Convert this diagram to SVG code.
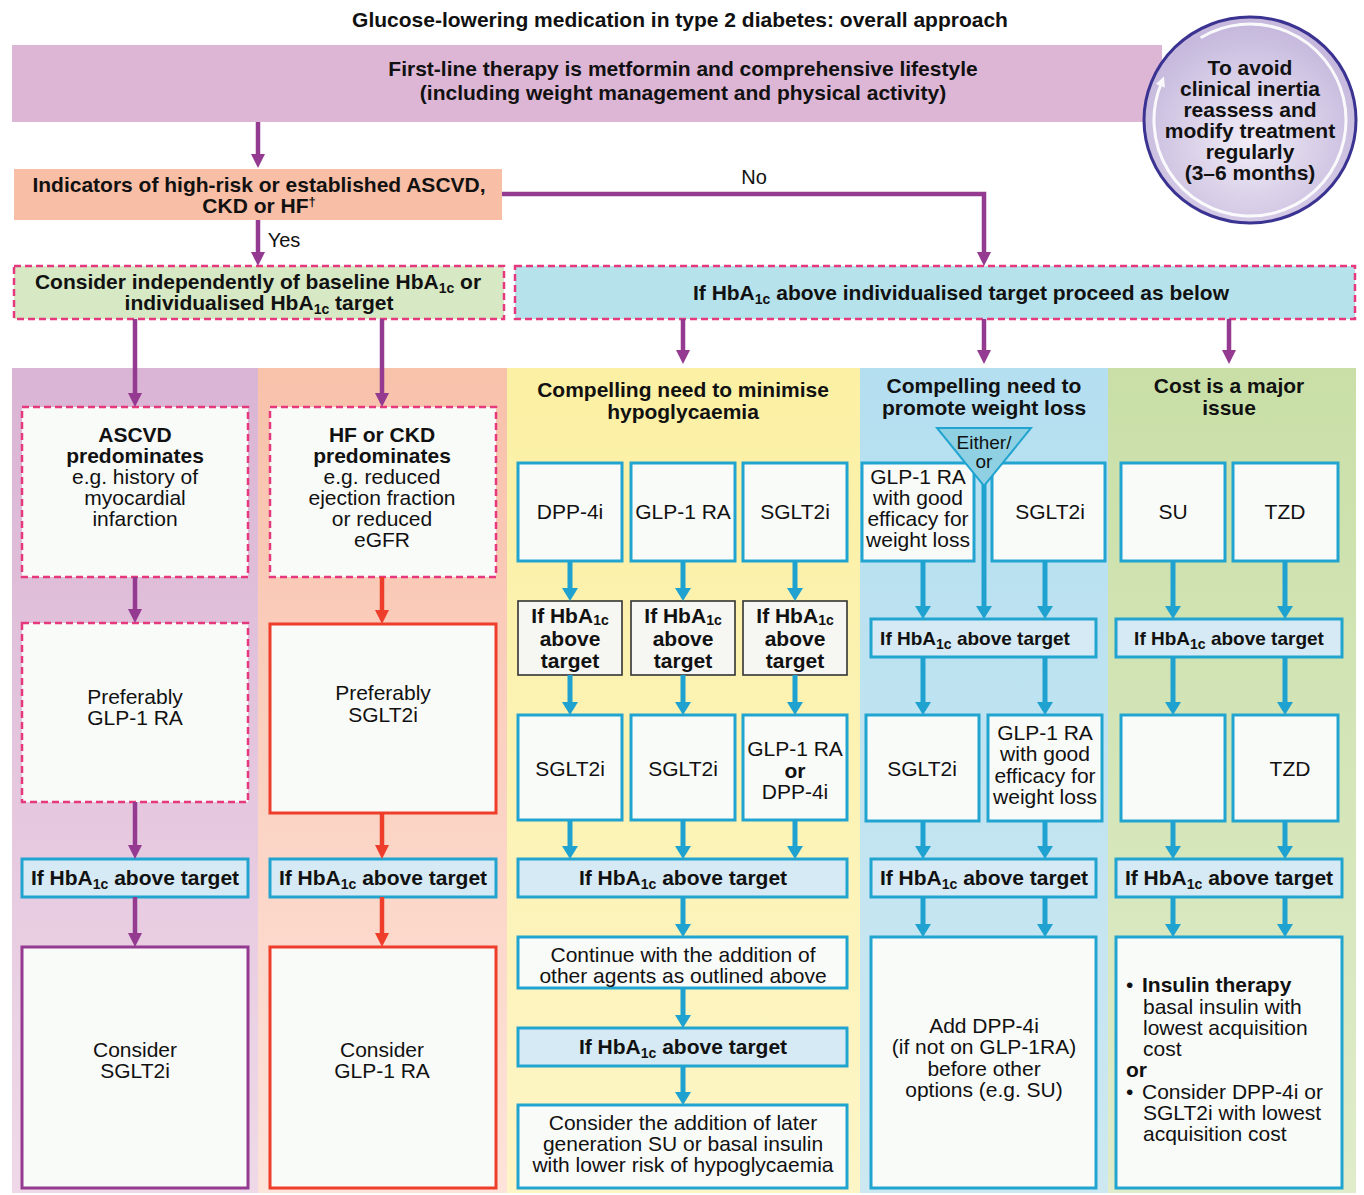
<svg xmlns="http://www.w3.org/2000/svg" width="1364" height="1195" viewBox="0 0 1364 1195">
<defs>
<style>
text{font-family:"Liberation Sans",Arial,Helvetica,sans-serif;font-size:21px;fill:#111111;text-anchor:middle}
.b{font-weight:bold}
.s{font-size:14px}
.sm{font-size:19px}
.st{text-anchor:start}
.cir{font-size:21px;font-weight:bold}
.dash{stroke:#e6397d;stroke-width:2.5;stroke-dasharray:7 4}
.wb{fill:#f9fbf9}
.cy{stroke:#22a4d0;stroke-width:3}
.hb{fill:#d5eaf4;stroke:#22a4d0;stroke-width:3}
.gb{fill:#f6f6f2;stroke:#333;stroke-width:1.6}
.lp{stroke:#943a90;stroke-width:4.5;fill:none;marker-end:url(#mp)}
.lr{stroke:#ee3d2b;stroke-width:4.5;fill:none;marker-end:url(#mr)}
.lc{stroke:#1fa2d0;stroke-width:5;fill:none;marker-end:url(#mc)}
</style>
<marker id="mp" viewBox="0 0 14 14" refX="3" refY="7" markerWidth="14" markerHeight="14" markerUnits="userSpaceOnUse" orient="auto"><path d="M0,0L14,7L0,14z" fill="#943a90"/></marker>
<marker id="mr" viewBox="0 0 14 14" refX="3" refY="7" markerWidth="14" markerHeight="14" markerUnits="userSpaceOnUse" orient="auto"><path d="M0,0L14,7L0,14z" fill="#ee3d2b"/></marker>
<marker id="mc" viewBox="0 0 13 16" refX="3" refY="8" markerWidth="13" markerHeight="16" markerUnits="userSpaceOnUse" orient="auto"><path d="M0,0L13,8L0,16z" fill="#1fa2d0"/></marker>
<marker id="mw" viewBox="0 0 10 10" refX="2" refY="5" markerWidth="10" markerHeight="10" markerUnits="userSpaceOnUse" orient="auto"><path d="M0,0L10,5L0,10z" fill="#ffffff"/></marker>
<linearGradient id="g1" x1="0" y1="0" x2="0" y2="1"><stop offset="0" stop-color="#dab4d4"/><stop offset="1" stop-color="#efd9e8"/></linearGradient>
<linearGradient id="g2" x1="0" y1="0" x2="0" y2="1"><stop offset="0" stop-color="#f8c1aa"/><stop offset="1" stop-color="#fde3da"/></linearGradient>
<linearGradient id="g3" x1="0" y1="0" x2="0" y2="1"><stop offset="0" stop-color="#fbf0a3"/><stop offset="1" stop-color="#fdf5c6"/></linearGradient>
<linearGradient id="g4" x1="0" y1="0" x2="0" y2="1"><stop offset="0" stop-color="#b4dff0"/><stop offset="1" stop-color="#cde8f1"/></linearGradient>
<linearGradient id="g5" x1="0" y1="0" x2="0" y2="1"><stop offset="0" stop-color="#c9dfa7"/><stop offset="1" stop-color="#e0ecca"/></linearGradient>
<radialGradient id="gc" cx="0.5" cy="0.6" r="0.55"><stop offset="0" stop-color="#f1ecf6"/><stop offset="1" stop-color="#c6b9dd"/></radialGradient>
</defs>
<rect width="1364" height="1195" fill="#ffffff"/>

<g id="title"><text class="b" x="680" y="27">Glucose-lowering medication in type 2 diabetes: overall approach</text></g>

<g id="columns">
<rect x="12" y="368" width="246" height="825" fill="url(#g1)"/>
<rect x="258" y="368" width="249" height="825" fill="url(#g2)"/>
<rect x="507" y="368" width="353" height="825" fill="url(#g3)"/>
<rect x="860" y="368" width="248" height="825" fill="url(#g4)"/>
<rect x="1108" y="368" width="248" height="825" fill="url(#g5)"/>
</g>

<g id="first-line">
<rect x="12" y="45" width="1150" height="77" fill="#ddb6d6"/>
<text class="b" x="683" y="76">First-line therapy is metformin and comprehensive lifestyle</text>
<text class="b" x="683" y="100">(including weight management and physical activity)</text>
</g>

<g id="reassess">
<ellipse cx="1250" cy="120" rx="106" ry="103" fill="url(#gc)" stroke="#3b3391" stroke-width="3"/>
<path d="M1200.6,37.7A96,96 0 1 1 1161,84" fill="none" stroke="#ffffff" stroke-width="3" opacity="0.9" marker-end="url(#mw)"/>
<text class="cir" x="1250" y="75">To avoid</text>
<text class="cir" x="1250" y="96">clinical inertia</text>
<text class="cir" x="1250" y="117">reassess and</text>
<text class="cir" x="1250" y="138">modify treatment</text>
<text class="cir" x="1250" y="159">regularly</text>
<text class="cir" x="1250" y="180">(3–6 months)</text>
</g>

<g id="indicators">
<rect x="14" y="169" width="488" height="51" fill="#f9bea6"/>
<text class="b" x="259" y="192">Indicators of high-risk or established ASCVD,</text>
<text class="b" x="259" y="213">CKD or HF<tspan dy="-7" font-size="13">†</tspan></text>
</g>

<g id="consider-independently">
<rect x="14" y="266" width="490" height="53" fill="#d6e8c4" class="dash"/>
<text class="b" x="258" y="289">Consider independently of baseline HbA<tspan class="s" dy="4">1c</tspan><tspan dy="-4"> or</tspan></text>
<text class="b" x="259" y="310">individualised HbA<tspan class="s" dy="4">1c</tspan><tspan dy="-4"> target</tspan></text>
</g>

<g id="proceed">
<rect x="515" y="266" width="840" height="53" fill="#b5e2eb" class="dash"/>
<text class="b" x="961" y="300">If HbA<tspan class="s" dy="4">1c</tspan><tspan dy="-4"> above individualised target proceed as below</tspan></text>
</g>

<g id="col1">
<g id="ascvd"><rect x="22" y="407" width="226" height="170" class="wb dash"/>
<text class="b" x="135" y="442">ASCVD</text><text class="b" x="135" y="463">predominates</text>
<text x="135" y="484">e.g. history of</text><text x="135" y="505">myocardial</text><text x="135" y="526">infarction</text></g>
<g id="pref-glp"><rect x="22" y="623" width="226" height="179" class="wb dash"/>
<text x="135" y="704">Preferably</text><text x="135" y="725">GLP-1 RA</text></g>
<g id="c1-hba"><rect x="22" y="859" width="226" height="38" class="hb"/>
<text class="b" x="135" y="885">If HbA<tspan class="s" dy="4">1c</tspan><tspan dy="-4"> above target</tspan></text></g>
<g id="c1-consider"><rect x="22" y="947" width="226" height="241" class="wb" stroke="#943a90" stroke-width="3"/>
<text x="135" y="1057">Consider</text><text x="135" y="1078">SGLT2i</text></g>
</g>

<g id="col2">
<g id="hfckd"><rect x="270" y="407" width="226" height="170" class="wb dash"/>
<text class="b" x="382" y="442">HF or CKD</text><text class="b" x="382" y="463">predominates</text>
<text x="382" y="484">e.g. reduced</text><text x="382" y="505">ejection fraction</text><text x="382" y="526">or reduced</text><text x="382" y="547">eGFR</text></g>
<g id="pref-sglt"><rect x="270" y="624" width="226" height="189" class="wb" stroke="#ee3d2b" stroke-width="3"/>
<text x="383" y="700">Preferably</text><text x="383" y="722">SGLT2i</text></g>
<g id="c2-hba"><rect x="270" y="859" width="226" height="38" class="hb"/>
<text class="b" x="383" y="885">If HbA<tspan class="s" dy="4">1c</tspan><tspan dy="-4"> above target</tspan></text></g>
<g id="c2-consider"><rect x="270" y="947" width="226" height="241" class="wb" stroke="#ee3d2b" stroke-width="3"/>
<text x="382" y="1057">Consider</text><text x="382" y="1078">GLP-1 RA</text></g>
</g>

<g id="col3">
<g id="c3-head"><text class="b" x="683" y="397">Compelling need to minimise</text><text class="b" x="683" y="419">hypoglycaemia</text></g>
<g id="c3-dpp"><rect x="518" y="463" width="104" height="98" class="wb cy"/><text x="570" y="519">DPP-4i</text></g>
<g id="c3-glp"><rect x="631" y="463" width="104" height="98" class="wb cy"/><text x="683" y="519">GLP-1 RA</text></g>
<g id="c3-sglt"><rect x="743" y="463" width="104" height="98" class="wb cy"/><text x="795" y="519">SGLT2i</text></g>
<g id="c3-h1"><rect x="518" y="601" width="104" height="74" class="gb"/><text class="b" x="570" y="623">If HbA<tspan class="s" dy="2">1c</tspan></text><text class="b" x="570" y="646">above</text><text class="b" x="570" y="668">target</text></g>
<g id="c3-h2"><rect x="631" y="601" width="104" height="74" class="gb"/><text class="b" x="683" y="623">If HbA<tspan class="s" dy="2">1c</tspan></text><text class="b" x="683" y="646">above</text><text class="b" x="683" y="668">target</text></g>
<g id="c3-h3"><rect x="743" y="601" width="104" height="74" class="gb"/><text class="b" x="795" y="623">If HbA<tspan class="s" dy="2">1c</tspan></text><text class="b" x="795" y="646">above</text><text class="b" x="795" y="668">target</text></g>
<g id="c3-s1"><rect x="518" y="715" width="104" height="105" class="wb cy"/><text x="570" y="776">SGLT2i</text></g>
<g id="c3-s2"><rect x="631" y="715" width="104" height="105" class="wb cy"/><text x="683" y="776">SGLT2i</text></g>
<g id="c3-s3"><rect x="743" y="715" width="104" height="105" class="wb cy"/><text x="795" y="756">GLP-1 RA</text><text class="b" x="795" y="778">or</text><text x="795" y="799">DPP-4i</text></g>
<g id="c3-hba"><rect x="518" y="859" width="329" height="38" class="hb"/><text class="b" x="683" y="885">If HbA<tspan class="s" dy="4">1c</tspan><tspan dy="-4"> above target</tspan></text></g>
<g id="c3-continue"><rect x="518" y="937" width="329" height="51" class="wb cy"/><text x="683" y="962">Continue with the addition of</text><text x="683" y="983">other agents as outlined above</text></g>
<g id="c3-hba2"><rect x="518" y="1028" width="329" height="38" class="hb"/><text class="b" x="683" y="1054">If HbA<tspan class="s" dy="4">1c</tspan><tspan dy="-4"> above target</tspan></text></g>
<g id="c3-later"><rect x="518" y="1105" width="329" height="83" class="wb cy"/><text x="683" y="1130">Consider the addition of later</text><text x="683" y="1151">generation SU or basal insulin</text><text x="683" y="1172">with lower risk of hypoglycaemia</text></g>
</g>

<g id="col4">
<g id="c4-head"><text class="b" x="984" y="393">Compelling need to</text><text class="b" x="984" y="415">promote weight loss</text></g>
<g id="c4-glp"><rect x="862" y="463" width="112" height="98" class="wb cy"/><text x="918" y="484">GLP-1 RA</text><text x="918" y="505">with good</text><text x="918" y="526">efficacy for</text><text x="918" y="547">weight loss</text></g>
<g id="c4-sglt"><rect x="992" y="463" width="113" height="98" class="wb cy"/><text x="1050" y="519">SGLT2i</text></g>
<g id="c4-hba"><rect x="871" y="619" width="225" height="38" class="hb"/><text class="b sm" x="975" y="645">If HbA<tspan class="s" dy="4">1c</tspan><tspan dy="-4"> above target</tspan></text></g>
<g id="c4-s"><rect x="866" y="715" width="113" height="106" class="wb cy"/><text x="922" y="776">SGLT2i</text></g>
<g id="c4-g"><rect x="988" y="715" width="114" height="106" class="wb cy"/><text x="1045" y="740">GLP-1 RA</text><text x="1045" y="761">with good</text><text x="1045" y="783">efficacy for</text><text x="1045" y="804">weight loss</text></g>
<g id="c4-hba2"><rect x="871" y="859" width="225" height="38" class="hb"/><text class="b" x="984" y="885">If HbA<tspan class="s" dy="4">1c</tspan><tspan dy="-4"> above target</tspan></text></g>
<g id="c4-add"><rect x="871" y="937" width="225" height="251" class="wb cy"/><text x="984" y="1033">Add DPP-4i</text><text x="984" y="1054">(if not on GLP-1RA)</text><text x="984" y="1076">before other</text><text x="984" y="1097">options (e.g. SU)</text></g>
</g>

<g id="col5">
<g id="c5-head"><text class="b" x="1229" y="393">Cost is a major</text><text class="b" x="1229" y="415">issue</text></g>
<g id="c5-su"><rect x="1121" y="463" width="104" height="98" class="wb cy"/><text x="1173" y="519">SU</text></g>
<g id="c5-tzd"><rect x="1233" y="463" width="105" height="98" class="wb cy"/><text x="1285" y="519">TZD</text></g>
<g id="c5-hba"><rect x="1116" y="619" width="226" height="38" class="hb"/><text class="b sm" x="1229" y="645">If HbA<tspan class="s" dy="4">1c</tspan><tspan dy="-4"> above target</tspan></text></g>
<g id="c5-empty"><rect x="1121" y="715" width="104" height="106" class="wb cy"/></g>
<g id="c5-tzd2"><rect x="1233" y="715" width="105" height="106" class="wb cy"/><text x="1290" y="776">TZD</text></g>
<g id="c5-hba2"><rect x="1116" y="859" width="226" height="38" class="hb"/><text class="b" x="1229" y="885">If HbA<tspan class="s" dy="4">1c</tspan><tspan dy="-4"> above target</tspan></text></g>
<g id="c5-insulin"><rect x="1116" y="937" width="226" height="251" class="wb cy"/>
<text class="st" x="1126" y="992">•</text><text class="b st" x="1142" y="992">Insulin therapy</text>
<text class="st" x="1143" y="1014">basal insulin with</text><text class="st" x="1143" y="1035">lowest acquisition</text><text class="st" x="1143" y="1056">cost</text>
<text class="b st" x="1126" y="1077">or</text>
<text class="st" x="1126" y="1099">•</text><text class="st" x="1142" y="1099">Consider DPP-4i or</text>
<text class="st" x="1143" y="1120">SGLT2i with lowest</text><text class="st" x="1143" y="1141">acquisition cost</text></g>
</g>

<g id="connectors">
<path class="lp" d="M258,122V157"/>
<path class="lp" d="M258,220V255"/>
<path class="lp" d="M502,194H984V255"/>
<path class="lp" d="M135,319V396"/>
<path class="lp" d="M382,319V396"/>
<path class="lp" d="M683,319V353"/>
<path class="lp" d="M984,319V353"/>
<path class="lp" d="M1229,319V353"/>
<path class="lp" d="M135,577V612"/>
<path class="lp" d="M135,802V848"/>
<path class="lp" d="M135,897V936"/>
<path class="lr" d="M382,577V613"/>
<path class="lr" d="M382,813V848"/>
<path class="lr" d="M382,897V936"/>
<path class="lc" d="M570,561V591"/><path class="lc" d="M683,561V591"/><path class="lc" d="M795,561V591"/>
<path class="lc" d="M570,675V705"/><path class="lc" d="M683,675V705"/><path class="lc" d="M795,675V705"/>
<path class="lc" d="M570,820V849"/><path class="lc" d="M683,820V849"/><path class="lc" d="M795,820V849"/>
<path class="lc" d="M683,897V927"/><path class="lc" d="M683,988V1018"/><path class="lc" d="M683,1066V1095"/>
<path class="lc" d="M984,484V609"/><path class="lc" d="M923,561V609"/><path class="lc" d="M1045,561V609"/>
<path class="lc" d="M923,657V705"/><path class="lc" d="M1045,657V705"/>
<path class="lc" d="M923,821V849"/><path class="lc" d="M1045,821V849"/>
<path class="lc" d="M923,897V927"/><path class="lc" d="M1045,897V927"/>
<path class="lc" d="M1173,561V609"/><path class="lc" d="M1285,561V609"/>
<path class="lc" d="M1173,657V705"/><path class="lc" d="M1285,657V705"/>
<path class="lc" d="M1173,821V849"/><path class="lc" d="M1285,821V849"/>
<path class="lc" d="M1173,897V927"/><path class="lc" d="M1285,897V927"/>
<text x="754" y="184" style="font-size:20px">No</text>
<text x="284" y="247" style="font-size:20px">Yes</text>
</g>

<g id="either-or">
<polygon points="937,428 1031,428 984,486" fill="#8fd0e3" stroke="#22a4d0" stroke-width="2"/>
<text class="sm" x="984" y="449">Either/</text>
<text class="sm" x="984" y="468">or</text>
</g>
</svg>
